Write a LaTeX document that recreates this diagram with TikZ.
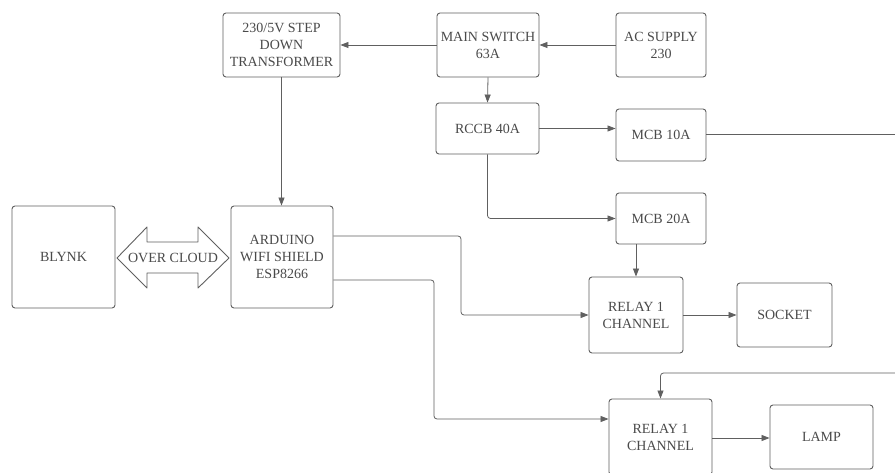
\documentclass[tikz,border=0pt]{standalone}
\usepackage{fontspec}
\setmainfont{Liberation Serif}
\usetikzlibrary{arrows.meta}
\definecolor{ln}{HTML}{606060}
\definecolor{tx}{HTML}{4A4A4A}
\begin{document}
\begin{tikzpicture}[x=1pt,y=-1pt,
  blk/.style={draw=ln, line width=0.9pt, rounded corners=3pt, align=center, text=tx,
    font=\fontsize{14}{17}\selectfont, inner sep=0pt},
  wire/.style={draw=ln, line width=0.8pt, rounded corners=3pt},
  arr/.style={wire, -{Triangle[length=8pt,width=6pt]}}]
\useasboundingbox (0,0) rectangle (895,473);
\clip (0,0) rectangle (895,473);
\fill[white] (0,0) rectangle (895,473);
\node[blk, minimum width=117pt, minimum height=64pt] (tr) at (281.5,45) {230/5V STEP\\DOWN\\TRANSFORMER};
\node[blk, minimum width=102pt, minimum height=64pt] (ms) at (488,45) {MAIN SWITCH\\63A};
\node[blk, minimum width=90pt, minimum height=64pt] (ac) at (661,45) {AC SUPPLY\\230};
\node[blk, minimum width=103pt, minimum height=51pt] (rccb) at (487.5,128.5) {RCCB 40A};
\node[blk, minimum width=90pt, minimum height=52pt] (m10) at (661,135) {MCB 10A};
\node[blk, minimum width=90pt, minimum height=51pt] (m20) at (661,218.5) {MCB 20A};
\node[blk, minimum width=94pt, minimum height=76pt] (r1) at (636,315) {RELAY 1\\CHANNEL};
\node[blk, minimum width=95pt, minimum height=64pt] (so) at (784.5,315) {SOCKET};
\node[blk, minimum width=102pt, minimum height=102pt] (ard) at (282,257) {ARDUINO\\WIFI SHIELD\\ESP8266};
\node[blk, minimum width=103pt, minimum height=102pt] (bl) at (63.5,257) {BLYNK};
\node[blk, minimum width=103pt, minimum height=76pt] (r2) at (660.5,437) {RELAY 1\\CHANNEL};
\node[blk, minimum width=103pt, minimum height=64pt] (la) at (821.5,437) {LAMP};
% double arrow
\draw[ln, line width=0.9pt, line join=round, fill=white]
  (117,258) -- (147,227) -- (147,242) -- (198,242) -- (198,227) -- (229,258)
  -- (198,288) -- (198,273) -- (147,273) -- (147,288) -- cycle;
\node[text=tx, font=\fontsize{14}{17}\selectfont, inner sep=0pt] (cloud) at (173,258) {OVER CLOUD};
% connectors
\coordinate (e1) at (895,134);
\coordinate (e2) at (895,373);
\draw[arr] (ac.west) -- (ms.east);
\draw[arr] (ms.west) -- (tr.east);
\draw[arr] (ms.south) -- (rccb.north);
\draw[arr] (rccb.east) -- (rccb.east -| m10.west);
\draw[wire] (m10.east |- e1) -- (e1);
\draw[arr] (rccb.south) |- (m20.west);
\draw[arr] (m20.south -| r1.north) -- (r1.north);
\draw[arr] (r1.east) -- (so.west);
\draw[arr] (tr.south) -- (tr.south |- ard.north);
\draw[arr] (ard.east |- 0,236) -- (461,236) -- (461,315) -- (r1.west);
\draw[arr] (ard.east |- 0,280) -- (434,280) -- (434,419) -- (r2.west |- 0,419);
\draw[arr] (e2) -- (r2.north |- e2) -- (r2.north);
\draw[arr] (r2.east |- 0,438) -- (la.west |- 0,438);
\end{tikzpicture}
\end{document}
